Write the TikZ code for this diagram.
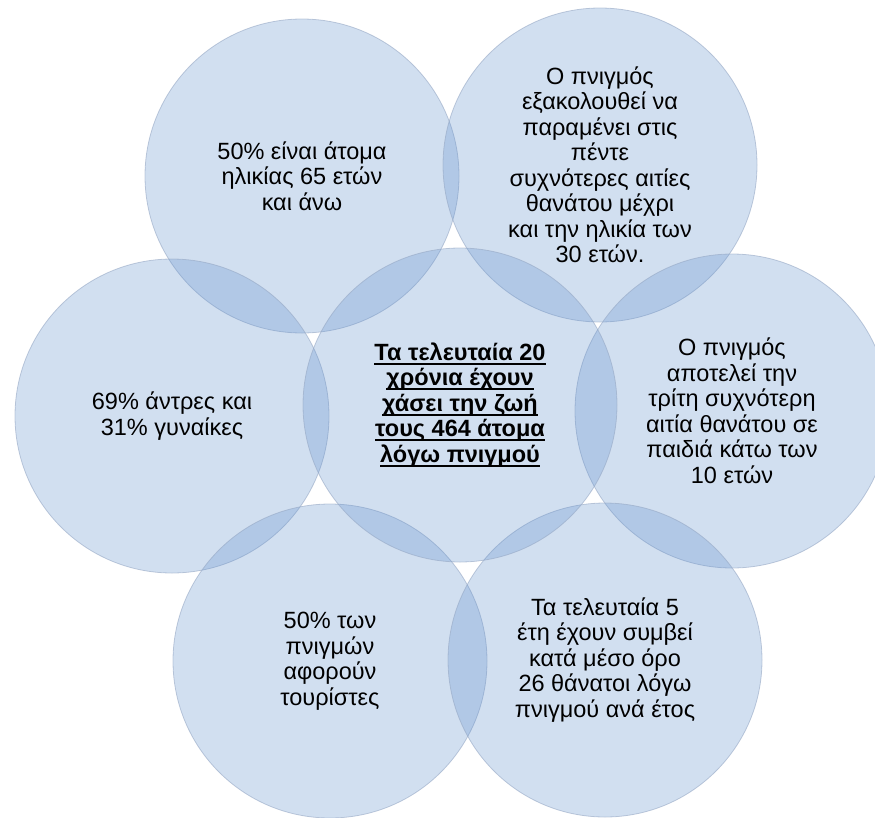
\documentclass[tikz,border=0pt]{standalone}
\usepackage{fontspec}
\setmainfont{Liberation Sans}
\usepackage{tikz}
\usetikzlibrary{positioning}

\definecolor{accentblue}{RGB}{98,145,205}
\definecolor{rimgray}{RGB}{150,168,196}
% underline at a fixed depth
\newcommand{\uln}[1]{\setbox0\hbox{#1}\rlap{\rule[-4.2pt]{\wd0}{1.8pt}}\box0}

\begin{document}
\begin{tikzpicture}[
    x=1pt, y=-1pt,
    fact/.style={circle, draw=rimgray, line width=0.8pt, draw opacity=0.6,
                 fill=accentblue, fill opacity=0.29, text opacity=1,
                 minimum size=314pt, inner sep=0pt, align=center,
                 font=\fontsize{23.5}{25.5}\selectfont},
    hub/.style={fact, font=\fontsize{23.5}{25.5}\selectfont\bfseries}
]
% Page frame (reference size in px)
\useasboundingbox (0,0) rectangle (875,817);
\clip (0,0) rectangle (875,817);

% === Outer circles ===
\node[fact] (topL) at (302,176) {50\% είναι άτομα\\ηλικίας 65 ετών\\και άνω};
\node[fact] (topR) at (600,165) {Ο πνιγμός\\εξακολουθεί να\\παραμένει στις\\πέντε\\συχνότερες αιτίες\\θανάτου μέχρι\\και την ηλικία των\\30 ετών.};
\node[fact] (midL) at (172,416) {69\% άντρες και\\31\% γυναίκες};
\node[fact] (midR) at (732,411) {Ο πνιγμός\\αποτελεί την\\τρίτη συχνότερη\\αιτία θανάτου σε\\παιδιά κάτω των\\10 ετών};
\node[fact] (botL) at (330,661) {50\% των\\πνιγμών\\αφορούν\\τουρίστες};
\node[fact] (botR) at (605,660) {Τα τελευταία 5\\έτη έχουν συμβεί\\κατά μέσο όρο\\26 θάνατοι λόγω\\πνιγμού ανά έτος};

% === Centre circle ===
\node[hub] (core) at (460,405) {\uln{Τα τελευταία 20}\\\uln{χρόνια έχουν}\\\uln{χάσει την ζωή}\\\uln{τους 464 άτομα}\\\uln{λόγω πνιγμού}};

\end{tikzpicture}
\end{document}
